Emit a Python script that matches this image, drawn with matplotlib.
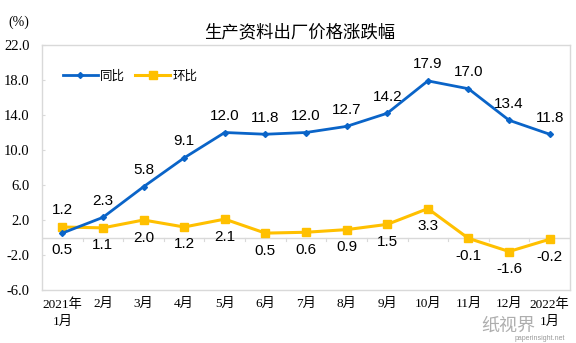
import numpy as np
import matplotlib
matplotlib.use('Agg')
from matplotlib import pyplot as plt

# data
months = ['2021年\n1月', '2月', '3月', '4月', '5月', '6月', '7月', '8月', '9月',
          '10月', '11月', '12月', '2022年\n1月']
yoy = [0.5, 2.3, 5.8, 9.1, 12.0, 11.8, 12.0, 12.7, 14.2, 17.9, 17.0, 13.4, 11.8]
mom = [1.2, 1.1, 2.0, 1.2, 2.1, 0.5, 0.6, 0.9, 1.5, 3.3, -0.1, -1.6, -0.2]
yticks = [-6.0, -2.0, 2.0, 6.0, 10.0, 14.0, 18.0, 22.0]

blue = '#0a64c8'
yellow = '#ffc000'
grid_c = '#d9d9d9'
serif = ['Liberation Serif', 'Noto Sans CJK SC']
sans = ['Liberation Sans', 'Noto Sans CJK SC']
cjk = ['Noto Sans CJK SC', 'DejaVu Sans']

fig = plt.figure(figsize=(5.76, 3.43), dpi=100)
ax = fig.add_axes([42/576, 1-290/343, 528/576, 245/343])
x = np.arange(len(months))

ax.plot(x, yoy, color=blue, lw=2, marker='D', ms=3, label='同比', zorder=4)
ax.plot(x, mom, color=yellow, lw=2.2, marker='s', ms=6, label='环比', zorder=3)

# zero line with category ticks
ax.axhline(0, color=grid_c, lw=1, zorder=1)
for b in np.arange(len(months) + 1) - 0.5:
    ax.plot([b, b], [0, -0.35], color=grid_c, lw=0.8, zorder=1)

# data labels
for i, v in enumerate(yoy):
    if i == 0:
        ax.text(i, v - 1.1, f'{v:.1f}', ha='center', va='top', fontsize=11, family=sans)
    else:
        ax.text(i, v + 1.1, f'{v:.1f}', ha='center', va='bottom', fontsize=11, family=sans)
for i, v in enumerate(mom):
    if i == 0:
        ax.text(i, v + 1.1, f'{v:.1f}', ha='center', va='bottom', fontsize=11, family=sans)
    else:
        ax.text(i, v - 1.2, f'{v:.1f}', ha='center', va='top', fontsize=11, family=sans)

ax.set_xlim(-0.5, len(months) - 0.5)
ax.set_ylim(-6, 22)
ax.set_yticks(yticks)
ax.set_yticklabels([f'{t:.1f}' for t in yticks], family=serif, fontsize=10.5)
ax.set_xticks(x)
ax.set_xticklabels(months, family=serif, fontsize=9.5, linespacing=1.5)
ax.tick_params(axis='y', direction='in', length=2, color=grid_c, pad=9)
ax.tick_params(axis='x', length=0, pad=6)
for s in ax.spines.values():
    s.set_color(grid_c)
    s.set_linewidth(1)

leg = ax.legend(loc='upper left', bbox_to_anchor=(0.03, 0.92), ncol=2, frameon=False,
                prop={'family': cjk, 'size': 9}, handlelength=2.8, columnspacing=0.8,
                handletextpad=0.2, borderaxespad=0)

fig.text(0.52, 0.905, '生产资料出厂价格涨跌幅', ha='center', va='center', fontsize=12.5, family=cjk)
fig.text(19/576, 1-22/343, '(%)', ha='center', va='center', fontsize=10, family=serif)

# watermark
fig.text(508/576, 1-326/343, '纸视界', ha='center', va='center', fontsize=13, color='#9a9a9a',
         family=cjk, alpha=0.8)
fig.text(540/576, 1-338/343, 'paperinsight.net', ha='center', va='center', fontsize=5,
         color='#9a9a9a', family=sans)

fig.savefig('out.png', dpi=100)
